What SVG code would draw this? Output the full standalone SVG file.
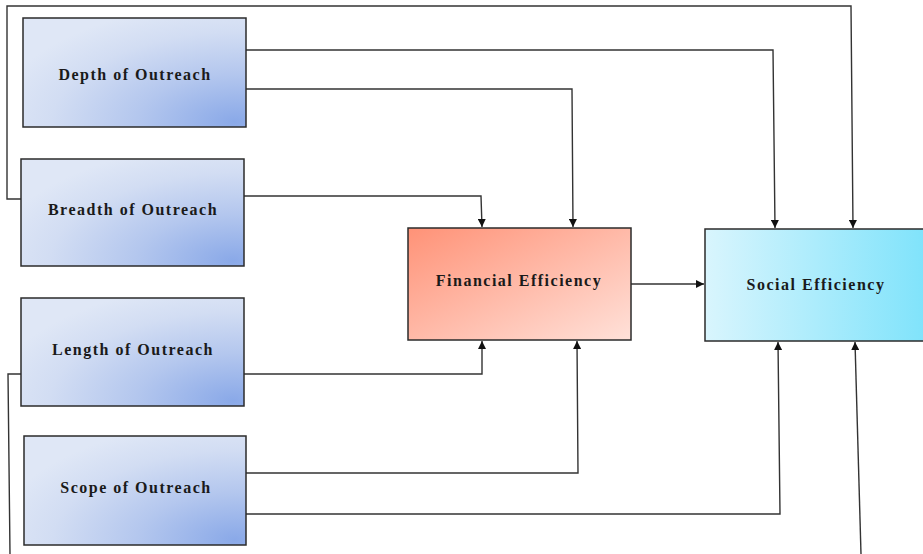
<svg xmlns="http://www.w3.org/2000/svg" width="923" height="554" viewBox="0 0 923 554">
<defs>
<radialGradient id="gBlue" cx="1" cy="1" r="1.15" fx="0.95" fy="0.95">
<stop offset="0" stop-color="#8aa9e8"/>
<stop offset="0.4" stop-color="#b4c7ee"/>
<stop offset="0.75" stop-color="#d2ddf3"/>
<stop offset="1" stop-color="#dfe7f6"/>
</radialGradient>
<linearGradient id="gRed" x1="0" y1="0" x2="1" y2="1">
<stop offset="0" stop-color="#ff9277"/>
<stop offset="1" stop-color="#ffe1d9"/>
</linearGradient>
<linearGradient id="gCyan" x1="0" y1="0" x2="1" y2="0">
<stop offset="0" stop-color="#d9f5fd"/>
<stop offset="1" stop-color="#7fe3fb"/>
</linearGradient>
<marker id="arr" viewBox="0 0 10 10" refX="10" refY="5" markerWidth="8" markerHeight="8" markerUnits="userSpaceOnUse" orient="auto">
<path d="M0,0 L10,5 L0,10 z" fill="#111"/>
</marker>
</defs>
<style>
.box{stroke:#2b2b2b;stroke-width:1.5}
.lbl{font-family:"Liberation Serif","Times New Roman",serif;font-weight:bold;font-size:16px;letter-spacing:1.5px;fill:#1a1a1a;text-anchor:middle;dominant-baseline:central}
.c{fill:none;stroke:#333;stroke-width:1.4}
.a{marker-end:url(#arr)}
</style>
<rect width="923" height="554" fill="#fff"/>
<g id="connectors">
<polyline class="c a" points="21,199 7,199 7,6 851,6 853,228"/>
<polyline class="c a" points="246,50 773,50 775,228"/>
<polyline class="c a" points="246,89 572,89 573,227"/>
<polyline class="c a" points="244,196 481,196 482,227"/>
<polyline class="c a" points="631,284 704,284"/>
<polyline class="c a" points="244,374 482,374 482,341"/>
<polyline class="c" points="21,374 8,374 10,554"/>
<polyline class="c a" points="861,554 855,342"/>
<polyline class="c a" points="246,473 578,473 577,341"/>
<polyline class="c a" points="246,514 780,514 778,342"/>
</g>
<g id="depth">
<rect class="box" x="23" y="18" width="223" height="109" fill="url(#gBlue)"/>
<text class="lbl" x="135" y="74">Depth of Outreach</text>
</g>
<g id="breadth">
<rect class="box" x="21" y="159" width="223" height="107" fill="url(#gBlue)"/>
<text class="lbl" x="133" y="209">Breadth of Outreach</text>
</g>
<g id="length">
<rect class="box" x="21" y="298" width="223" height="108" fill="url(#gBlue)"/>
<text class="lbl" x="133" y="349">Length of Outreach</text>
</g>
<g id="scope">
<rect class="box" x="24" y="436" width="222" height="109" fill="url(#gBlue)"/>
<text class="lbl" x="136" y="487">Scope of Outreach</text>
</g>
<g id="financial">
<rect class="box" x="408" y="228" width="223" height="112" fill="url(#gRed)"/>
<text class="lbl" x="519" y="280">Financial Efficiency</text>
</g>
<g id="social">
<rect class="box" x="705" y="229" width="222" height="112" fill="url(#gCyan)"/>
<text class="lbl" x="816" y="284">Social Efficiency</text>
</g>
</svg>
